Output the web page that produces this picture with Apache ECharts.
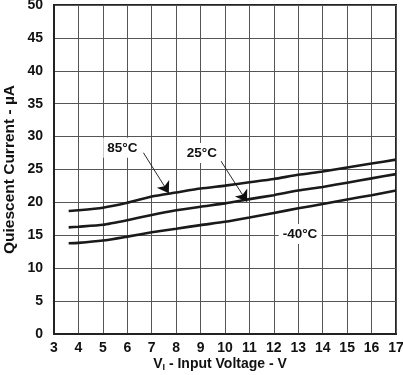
<!DOCTYPE html>
<html>
<head>
<meta charset="utf-8">
<script src="https://cdn.jsdelivr.net/npm/echarts@6/dist/echarts.min.js"></script>
<style>html,body{margin:0;padding:0;background:#fff}#c{width:403px;height:375px}</style>
</head>
<body>
<div id="c"></div>
<script>
const voltage = [3.6, 4, 5, 6, 7, 8, 9, 10, 11, 12, 13, 14, 15, 16, 17];
const current85 = [18.7, 18.8, 19.2, 19.95, 20.9, 21.5, 22.1, 22.55, 23.05, 23.55, 24.2, 24.7, 25.3, 25.9, 26.5];
const current25 = [16.2, 16.3, 16.6, 17.3, 18.1, 18.8, 19.35, 19.85, 20.5, 21.1, 21.8, 22.35, 23.0, 23.65, 24.3];
const currentM40 = [13.8, 13.85, 14.2, 14.8, 15.45, 16.0, 16.55, 17.05, 17.7, 18.4, 19.1, 19.75, 20.45, 21.1, 21.8];
const seriesNames = ['85°C', '25°C', '-40°C'];
const labelPos = [[5.8, 28.3], [9.05, 27.5], [13.07, 15.2]];
const arrows = [[[6.66, 27.55], [7.7, 21.4]], [[9.83, 26.3], [10.9, 20.1]]];

const font = '"Liberation Sans", Arial, sans-serif';
const pair = (xs, ys) => xs.map((x, i) => [x, ys[i]]);
const values = [current85, current25, currentM40];

const series = values.map((v, i) => {
  const s = {
    name: seriesNames[i],
    type: 'line',
    data: pair(voltage, v),
    showSymbol: false,
    smooth: 0.2,
    lineStyle: { color: '#1a1a1a', width: 2.6 },
    z: 3,
    markPoint: {
      symbol: 'rect', symbolSize: 0,
      data: [{ coord: labelPos[i], value: seriesNames[i] }],
      label: {
        show: true, position: 'inside', formatter: seriesNames[i],
        fontFamily: font, fontWeight: 'bold', fontSize: 13.5, color: '#111',
        backgroundColor: '#fff', padding: [3, 4]
      }
    }
  };
  if (arrows[i]) {
    s.markLine = {
      silent: true,
      symbol: ['none', 'arrow'], symbolSize: 11,
      lineStyle: { color: '#111', width: 0.9, type: 'solid' },
      itemStyle: { color: '#111' },
      label: { show: false },
      emphasis: { disabled: true },
      data: [[{ coord: arrows[i][0] }, { coord: arrows[i][1] }]]
    };
  }
  return s;
});

const chart = echarts.init(document.getElementById('c'));
chart.setOption({
  animation: false,
  backgroundColor: '#fff',
  grid: { left: 54, right: 7, top: 5, bottom: 41, outerBoundsMode: 'none', containLabel: false,
    show: true, borderColor: '#222', borderWidth: 2, backgroundColor: 'transparent' },
  xAxis: {
    type: 'value', min: 3, max: 17, interval: 1,
    axisLine: { show: true, lineStyle: { color: '#222', width: 2 } },
    axisTick: { show: false },
    axisLabel: { fontFamily: font, fontWeight: 'bold', fontSize: 14, color: '#111', margin: 7 },
    splitLine: { show: true, lineStyle: { color: '#555', width: 1 } },
    name: 'V{s|I} - Input Voltage - V',
    nameLocation: 'middle', nameGap: 22, nameMoveOverlap: false,
    nameTextStyle: { fontFamily: font, fontWeight: 'bold', fontSize: 14, color: '#111', padding: [0, 10, 0, 0],
      rich: { s: { fontFamily: font, fontWeight: 'bold', fontSize: 9, color: '#111', verticalAlign: 'bottom', padding: [7, 0, 0, 0] } } }
  },
  yAxis: {
    type: 'value', min: 0, max: 50, interval: 5,
    axisLine: { show: true, lineStyle: { color: '#222', width: 2 } },
    axisTick: { show: false },
    axisLabel: { fontFamily: font, fontWeight: 'bold', fontSize: 14, color: '#111', margin: 11 },
    splitLine: { show: true, lineStyle: { color: '#555', width: 1 } },
    name: 'Quiescent Current - µA',
    nameLocation: 'middle', nameGap: 36, nameMoveOverlap: false,
    nameTextStyle: { fontFamily: font, fontWeight: 'bold', fontSize: 15.5, color: '#111' }
  },
  series: series
});
</script>
</body>
</html>
